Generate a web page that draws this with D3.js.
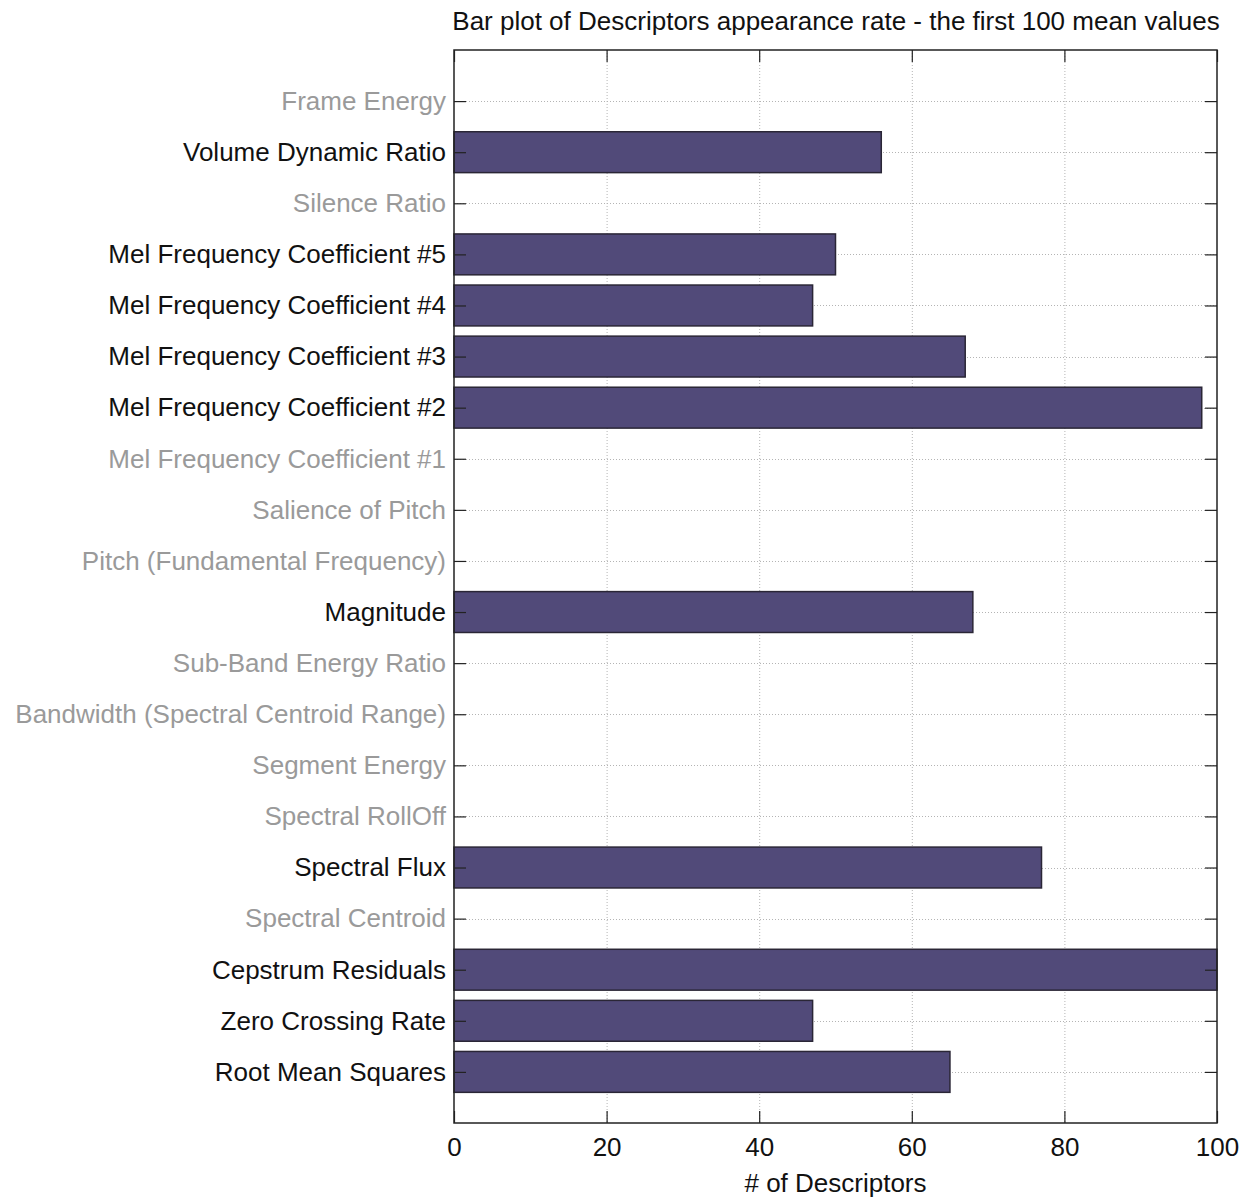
<!DOCTYPE html>
<html>
<head>
<meta charset="utf-8">
<script src="https://cdn.jsdelivr.net/npm/d3@7"></script>
<style>
  html, body { margin: 0; padding: 0; background: #fff; }
  svg { display: block; font-family: "Liberation Sans", Arial, Helvetica, sans-serif; }
</style>
</head>
<body>
<svg id="chart" width="1252" height="1198"></svg>
<script>
// Descriptor names, listed from the bottom row upwards
const descriptors = [
  "Root Mean Squares",
  "Zero Crossing Rate",
  "Cepstrum Residuals",
  "Spectral Centroid",
  "Spectral Flux",
  "Spectral RollOff",
  "Segment Energy",
  "Bandwidth (Spectral Centroid Range)",
  "Sub-Band Energy Ratio",
  "Magnitude",
  "Pitch (Fundamental Frequency)",
  "Salience of Pitch",
  "Mel Frequency Coefficient #1",
  "Mel Frequency Coefficient #2",
  "Mel Frequency Coefficient #3",
  "Mel Frequency Coefficient #4",
  "Mel Frequency Coefficient #5",
  "Silence Ratio",
  "Volume Dynamic Ratio",
  "Frame Energy"
];

// Number of times each descriptor appears among the first 100 mean values
const counts = [65, 47, 100, 0, 77, 0, 0, 0, 0, 68, 0, 0, 0, 98, 67, 47, 50, 0, 56, 0];

const xTicks = [0, 20, 40, 60, 80, 100];

const titleText = "Bar plot of Descriptors appearance rate - the first 100 mean values";
const xLabelText = "# of Descriptors";

const svg = d3.select("#chart");
const plotLeft = 454, plotRight = 1217, plotTop = 50, plotBottom = 1123;
const fontSize = 26;
const fontFamily = "'Liberation Sans', Arial, Helvetica, sans-serif";

const x = d3.scaleLinear().domain([0, 100]).range([plotLeft, plotRight]);
// Rows sit at integer positions 1..N inside a 0..N+1 axis
const y = d3.scaleLinear().domain([0, descriptors.length + 1]).range([plotBottom, plotTop]);
const rowPx = Math.abs(y(1) - y(0));
const barH = rowPx * 0.8;

const rows = descriptors.map((name, i) => ({ name, value: counts[i], pos: i + 1 }));

// Grid (dotted)
const grid = svg.append("g").attr("stroke", "#b4b4b4").attr("stroke-width", 1)
  .attr("stroke-dasharray", "1,2");
grid.selectAll("line.gx").data(xTicks.filter(t => t > 0 && t < 100)).join("line")
  .attr("x1", d => x(d) + 0.5).attr("x2", d => x(d) + 0.5)
  .attr("y1", plotTop).attr("y2", plotBottom);
grid.selectAll("line.gy").data(rows).join("line")
  .attr("x1", plotLeft).attr("x2", plotRight)
  .attr("y1", d => Math.round(y(d.pos)) + 0.5).attr("y2", d => Math.round(y(d.pos)) + 0.5);

// Bars
svg.append("g").selectAll("rect").data(rows.filter(d => d.value > 0)).join("rect")
  .attr("x", x(0))
  .attr("y", d => y(d.pos) - barH / 2)
  .attr("width", d => Math.min(x(d.value), plotRight) - x(0))
  .attr("height", barH)
  .attr("fill", "#514a79")
  .attr("stroke", "#2a2636")
  .attr("stroke-width", 1.5);

// Axes with inward ticks on all four sides
const tickLen = 12;
const yAxisL = d3.axisLeft(y).tickValues(rows.map(d => d.pos)).tickSize(-tickLen)
  .tickFormat(p => descriptors[p - 1]).tickPadding(8);
const gL = svg.append("g").attr("transform", `translate(${plotLeft},0)`).call(yAxisL);
gL.selectAll("text")
  .attr("font-size", fontSize)
  .attr("font-family", fontFamily)
  .attr("fill", p => counts[p - 1] > 0 ? "#111" : "#9a9a9a");

const gR = svg.append("g").attr("transform", `translate(${plotRight},0)`)
  .call(d3.axisRight(y).tickValues(rows.map(d => d.pos)).tickSize(-tickLen).tickFormat(""));

const gB = svg.append("g").attr("transform", `translate(0,${plotBottom})`)
  .call(d3.axisBottom(x).tickValues(xTicks).tickSize(-tickLen).tickPadding(15));
gB.selectAll("text")
  .attr("font-size", fontSize)
  .attr("font-family", fontFamily)
  .attr("fill", "#111");

const gT = svg.append("g").attr("transform", `translate(0,${plotTop})`)
  .call(d3.axisTop(x).tickValues(xTicks).tickSize(-tickLen).tickFormat(""));

[gL, gR, gB, gT].forEach(g => {
  g.select(".domain").remove();
  g.selectAll(".tick line").attr("stroke", "#222").attr("stroke-width", 1.2);
});

// Frame
svg.append("rect")
  .attr("x", plotLeft).attr("y", plotTop)
  .attr("width", plotRight - plotLeft).attr("height", plotBottom - plotTop)
  .attr("fill", "none").attr("stroke", "#222").attr("stroke-width", 1.5);

// Title and axis label
svg.append("text")
  .attr("x", 836).attr("y", 30)
  .attr("text-anchor", "middle").attr("font-size", fontSize)
  .attr("font-family", fontFamily).attr("fill", "#111")
  .text(titleText);

svg.append("text")
  .attr("x", (plotLeft + plotRight) / 2).attr("y", 1192)
  .attr("text-anchor", "middle").attr("font-size", fontSize)
  .attr("font-family", fontFamily).attr("fill", "#111")
  .text(xLabelText);
</script>
</body>
</html>
